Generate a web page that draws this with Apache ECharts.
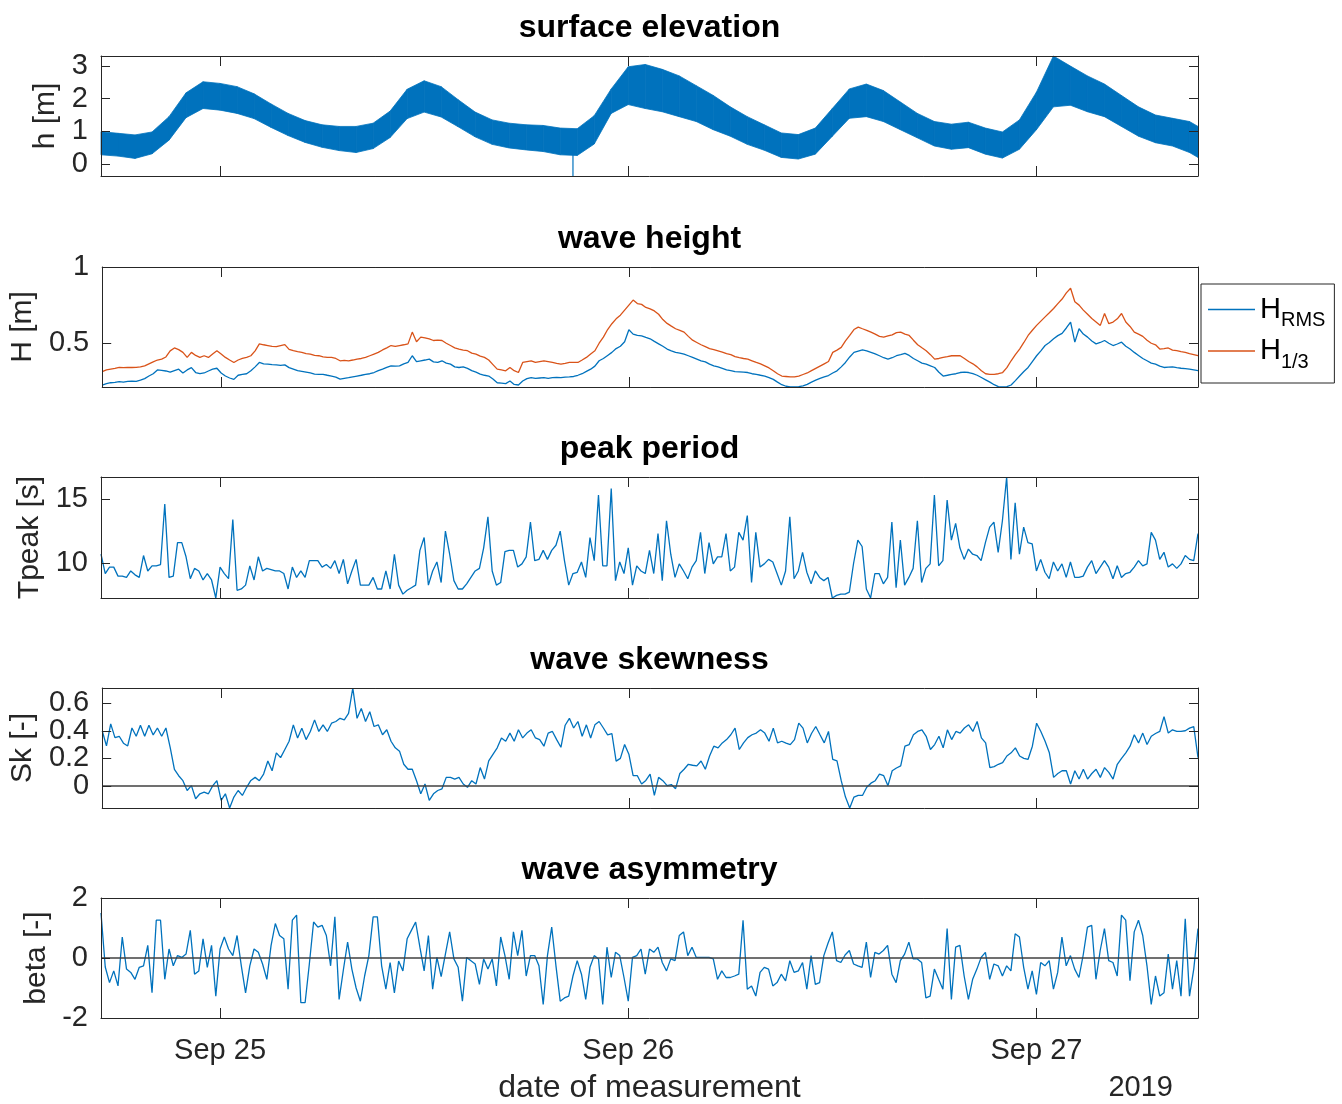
<!DOCTYPE html>
<html><head><meta charset="utf-8">
<script src="https://cdn.jsdelivr.net/npm/echarts@6/dist/echarts.min.js"></script>
<style>html,body{margin:0;padding:0;background:#fff}#c{width:1342px;height:1104px}</style>
</head><body><div id="c"></div>
<script>
// ---------- time base ----------
const START = Date.UTC(2019, 8, 24, 17, 0);
const END = Date.UTC(2019, 8, 27, 9, 30);
const STEP15 = 15 * 60 * 1000;
const ELEV_STEP = 60 * 60 * 1000;
const xTicks = [Date.UTC(2019, 8, 25), Date.UTC(2019, 8, 26), Date.UTC(2019, 8, 27)];
const xTickLabels = ['Sep 25', 'Sep 26', 'Sep 27'];
const yearLabel = '2019';
const xLabel = 'date of measurement';

// ---------- surface elevation (hourly envelope of the raw signal, last sample at END) ----------
const elevUpper = [0.99,0.94,0.89,0.98,1.45,2.18,2.52,2.47,2.37,2.15,1.84,1.55,1.33,1.20,1.15,1.15,1.25,1.62,2.29,2.55,2.37,1.97,1.59,1.35,1.25,1.20,1.18,1.10,1.08,1.48,2.30,2.98,3.05,2.90,2.70,2.40,2.10,1.75,1.45,1.20,0.95,0.90,1.10,1.70,2.30,2.45,2.25,1.90,1.55,1.30,1.22,1.28,1.10,0.98,1.35,2.20,3.31,3.00,2.70,2.45,2.10,1.75,1.50,1.40,1.30,1.15];
const elevLower = [0.28,0.24,0.17,0.31,0.73,1.42,1.70,1.65,1.55,1.39,1.12,0.87,0.66,0.51,0.41,0.35,0.47,0.81,1.39,1.59,1.44,1.14,0.83,0.60,0.49,0.43,0.38,0.28,0.26,0.61,1.55,1.82,1.70,1.60,1.45,1.30,1.05,0.85,0.60,0.42,0.20,0.15,0.30,0.85,1.40,1.45,1.30,1.05,0.80,0.55,0.45,0.50,0.30,0.18,0.45,1.05,1.75,1.80,1.60,1.45,1.15,0.85,0.65,0.55,0.35,0.20];
const spikeTime = Date.UTC(2019, 8, 25, 20, 45);
const spikeValues = [0.35, -0.37];

// ---------- 15-minute wave statistics ----------
const hRms = [0.226,0.235,0.241,0.243,0.248,0.245,0.250,0.252,0.250,0.258,
0.268,0.285,0.300,0.325,0.322,0.318,0.310,0.320,0.330,0.305,
0.325,0.340,0.308,0.300,0.305,0.318,0.330,0.336,0.305,0.285,
0.272,0.263,0.290,0.296,0.300,0.320,0.345,0.374,0.365,0.363,
0.360,0.358,0.355,0.358,0.340,0.330,0.320,0.315,0.310,0.305,
0.298,0.296,0.296,0.290,0.285,0.278,0.265,0.270,0.274,0.280,
0.285,0.290,0.296,0.300,0.308,0.320,0.330,0.342,0.352,0.350,
0.352,0.365,0.374,0.418,0.380,0.385,0.390,0.396,0.378,0.374,
0.385,0.370,0.363,0.345,0.341,0.345,0.335,0.320,0.310,0.298,
0.290,0.285,0.265,0.241,0.238,0.235,0.252,0.230,0.226,0.252,
0.268,0.274,0.270,0.272,0.274,0.270,0.274,0.276,0.274,0.278,
0.279,0.282,0.290,0.300,0.315,0.330,0.350,0.385,0.400,0.420,
0.440,0.465,0.480,0.510,0.588,0.560,0.551,0.548,0.538,0.529,
0.512,0.496,0.480,0.462,0.450,0.440,0.435,0.429,0.418,0.407,
0.396,0.385,0.378,0.363,0.352,0.345,0.335,0.325,0.320,0.314,
0.312,0.310,0.308,0.300,0.296,0.290,0.285,0.275,0.263,0.245,
0.228,0.218,0.213,0.213,0.215,0.220,0.230,0.245,0.258,0.270,
0.280,0.288,0.305,0.319,0.345,0.374,0.410,0.440,0.448,0.456,
0.450,0.440,0.430,0.418,0.405,0.396,0.405,0.418,0.425,0.434,
0.420,0.400,0.385,0.370,0.363,0.352,0.341,0.310,0.285,0.290,
0.296,0.300,0.308,0.310,0.308,0.300,0.290,0.275,0.260,0.245,
0.228,0.215,0.213,0.215,0.226,0.255,0.285,0.315,0.341,0.380,
0.418,0.450,0.485,0.505,0.529,0.550,0.565,0.600,0.639,0.507,
0.595,0.560,0.540,0.515,0.496,0.505,0.518,0.500,0.485,0.495,
0.507,0.480,0.462,0.440,0.420,0.400,0.385,0.370,0.363,0.350,
0.341,0.343,0.345,0.340,0.336,0.333,0.330,0.325,0.320];
const h13 = [0.314,0.325,0.330,0.335,0.341,0.340,0.342,0.341,0.342,0.345,
0.352,0.365,0.378,0.390,0.396,0.410,0.450,0.469,0.458,0.440,
0.407,0.440,0.420,0.407,0.418,0.407,0.430,0.451,0.430,0.407,
0.390,0.374,0.390,0.400,0.407,0.418,0.450,0.496,0.490,0.485,
0.480,0.478,0.485,0.491,0.460,0.451,0.445,0.440,0.432,0.429,
0.420,0.418,0.410,0.407,0.407,0.400,0.385,0.388,0.385,0.390,
0.396,0.400,0.407,0.418,0.429,0.440,0.456,0.470,0.485,0.480,
0.485,0.490,0.496,0.573,0.510,0.540,0.535,0.529,0.518,0.520,
0.518,0.500,0.485,0.470,0.462,0.455,0.451,0.435,0.429,0.415,
0.407,0.390,0.360,0.330,0.325,0.319,0.341,0.320,0.308,0.374,
0.380,0.385,0.374,0.380,0.385,0.380,0.374,0.368,0.363,0.368,
0.374,0.374,0.374,0.390,0.407,0.430,0.451,0.500,0.540,0.590,
0.628,0.660,0.684,0.717,0.750,0.783,0.760,0.755,0.735,0.725,
0.712,0.690,0.655,0.630,0.612,0.595,0.585,0.573,0.545,0.520,
0.505,0.490,0.478,0.465,0.458,0.450,0.442,0.432,0.425,0.412,
0.405,0.400,0.396,0.385,0.374,0.365,0.352,0.338,0.320,0.300,
0.285,0.282,0.279,0.280,0.285,0.295,0.305,0.320,0.335,0.350,
0.365,0.380,0.440,0.455,0.473,0.515,0.551,0.590,0.606,0.595,
0.585,0.573,0.560,0.545,0.540,0.548,0.555,0.570,0.573,0.560,
0.551,0.520,0.490,0.470,0.451,0.425,0.396,0.400,0.407,0.412,
0.418,0.418,0.418,0.400,0.380,0.365,0.345,0.320,0.300,0.296,
0.296,0.300,0.308,0.340,0.385,0.425,0.462,0.505,0.551,0.585,
0.617,0.645,0.673,0.700,0.728,0.760,0.790,0.830,0.861,0.772,
0.750,0.717,0.690,0.662,0.640,0.617,0.695,0.628,0.639,0.660,
0.695,0.639,0.610,0.573,0.560,0.545,0.520,0.500,0.490,0.462,
0.465,0.469,0.455,0.451,0.445,0.440,0.432,0.425,0.418];
const tPeak = [10.7,9.2,9.7,9.7,9.0,9.0,8.9,9.4,9.1,8.9,
10.6,9.4,9.8,9.8,9.9,14.6,8.9,9.0,11.6,11.6,
10.5,8.8,9.6,9.4,8.7,9.2,8.7,7.3,9.7,9.2,
8.8,13.4,7.9,8.0,8.3,9.8,8.7,10.5,9.4,9.6,
9.5,9.4,9.4,9.2,8.0,9.7,8.9,9.4,8.9,10.2,
10.2,10.2,9.7,9.9,9.6,10.2,9.2,10.3,8.4,9.4,
10.3,8.3,8.3,8.3,8.9,8.0,8.0,9.4,8.0,10.7,
8.3,7.6,7.9,8.1,8.3,11.0,12.0,8.3,9.4,10.1,
8.5,12.5,10.7,8.65,8.0,8.0,8.4,8.9,9.4,9.6,
11.2,13.6,9.4,8.3,8.5,10.9,11.0,11.0,9.7,9.95,
10.5,13.2,10.2,10.3,11.0,10.3,11.0,11.4,12.5,10.2,
8.3,9.2,9.3,10.1,8.9,12.0,10.2,15.3,9.8,9.8,
15.8,8.65,10.1,9.2,11.2,8.3,9.8,9.4,9.2,11.0,
9.2,12.3,8.65,13.3,10.7,8.9,9.95,9.4,8.8,9.7,
10.2,12.4,9.2,11.6,9.95,10.5,10.5,12.3,9.4,9.7,
12.4,11.8,13.7,8.5,12.4,9.7,9.95,10.3,10.1,9.2,
8.3,9.4,13.6,8.8,9.4,10.85,9.3,8.4,9.4,8.9,
8.65,8.9,7.3,7.5,7.6,7.6,7.75,10.0,11.8,11.3,
8.0,7.3,9.2,9.2,8.4,8.9,13.2,8.1,11.8,8.3,
8.9,9.6,13.3,8.5,9.6,9.95,15.3,9.8,10.2,14.9,
11.8,13.1,11.2,10.3,11.1,10.7,10.6,10.2,11.6,12.8,
13.2,10.85,13.3,16.7,10.3,14.7,10.7,12.8,11.6,11.5,
9.4,10.3,9.3,8.8,10.1,9.4,9.95,8.9,10.1,8.9,
8.9,9.0,9.7,10.2,9.2,9.7,10.2,9.7,8.8,9.8,
8.9,9.2,9.3,9.7,10.2,9.8,9.95,12.4,11.8,10.3,
10.85,9.7,9.95,9.6,9.95,10.6,10.3,10.2,12.3];
const skew = [0.40,0.29,0.45,0.35,0.36,0.31,0.29,0.42,0.36,0.44,
0.36,0.44,0.37,0.42,0.36,0.42,0.28,0.12,0.074,0.038,
-0.033,0.002,-0.093,-0.057,-0.045,-0.057,0.0,0.038,-0.105,-0.057,
-0.16,-0.081,-0.033,-0.069,-0.01,0.04,0.062,0.038,0.086,0.181,
0.11,0.24,0.205,0.264,0.324,0.443,0.348,0.419,0.336,0.395,
0.479,0.395,0.443,0.395,0.455,0.467,0.49,0.479,0.526,0.71,
0.49,0.562,0.467,0.538,0.431,0.443,0.371,0.407,0.324,0.276,
0.252,0.157,0.121,0.121,0.038,-0.057,0.014,-0.105,-0.057,-0.033,
-0.021,0.062,0.062,0.050,0.062,0.014,-0.010,0.038,0.014,0.133,
0.05,0.181,0.229,0.276,0.348,0.324,0.383,0.324,0.407,0.348,
0.383,0.407,0.348,0.336,0.288,0.383,0.395,0.336,0.28,0.44,
0.49,0.42,0.467,0.36,0.443,0.348,0.443,0.467,0.42,0.37,
0.38,0.18,0.20,0.30,0.23,0.074,0.074,0.014,0.04,0.086,
-0.069,0.062,0.038,0.002,0.01,-0.02,0.09,0.121,0.157,0.15,
0.145,0.181,0.121,0.217,0.288,0.276,0.312,0.336,0.371,0.419,
0.264,0.312,0.35,0.371,0.383,0.407,0.383,0.324,0.419,0.312,
0.324,0.31,0.30,0.336,0.455,0.419,0.312,0.38,0.431,0.371,
0.312,0.395,0.193,0.181,0.038,-0.081,-0.16,-0.081,-0.069,-0.069,
-0.01,0.02,0.038,0.086,0.074,0.002,0.11,0.13,0.145,0.288,
0.30,0.371,0.395,0.407,0.36,0.264,0.30,0.36,0.276,0.407,
0.336,0.395,0.383,0.42,0.443,0.395,0.467,0.348,0.312,0.133,
0.14,0.157,0.169,0.217,0.24,0.276,0.217,0.20,0.193,0.288,
0.455,0.395,0.324,0.24,0.062,0.09,0.11,0.11,0.014,0.11,
0.05,0.121,0.05,0.09,0.121,0.062,0.133,0.098,0.05,0.157,
0.2,0.24,0.288,0.371,0.312,0.383,0.30,0.36,0.38,0.395,
0.502,0.383,0.407,0.395,0.395,0.40,0.419,0.43,0.205];
const beta = [1.5,-0.3,-0.82,-0.43,-0.93,0.70,-0.37,-0.48,-0.71,-0.31,
-0.26,0.42,-1.16,1.26,1.26,-0.71,0.30,-0.26,0.08,0.02,
0.13,0.92,-0.54,-0.43,0.64,-0.31,0.42,-1.27,0.30,0.70,
0.3,0.08,0.75,-0.26,-1.16,-0.26,0.30,0.19,-0.2,-0.71,
0.42,1.15,0.75,0.64,-1.04,1.26,1.43,-1.49,-1.49,-0.2,
1.20,1.03,1.09,0.75,-0.26,1.37,-1.38,-0.4,0.53,-0.37,
-1.0,-1.44,-0.6,0.08,1.37,1.37,-0.26,-1.04,-0.15,-1.16,
-0.1,-0.43,0.64,0.92,1.20,0.36,-0.43,0.75,-1.04,0.02,
-0.62,0.13,0.87,-0.03,-0.31,-1.44,0.02,-0.09,-0.20,-0.88,
-0.03,-0.37,-0.03,-0.93,0.70,0.08,-0.71,0.87,0.08,0.92,
-0.60,0.08,0.08,-0.26,-1.55,0.08,1.03,-0.26,-1.44,-1.33,
-1.27,-0.60,-0.09,-0.54,-1.38,-0.31,0.08,-0.03,-1.55,0.36,
-0.65,0.19,0.08,-0.65,-1.44,0.02,0.08,0.30,-0.54,0.30,
0.19,0.36,-0.15,-0.43,-0.03,-0.09,0.75,0.87,0.08,0.36,
0.02,0.02,0.02,0.02,-0.03,-0.71,-0.43,-0.65,-0.65,-0.60,
-0.54,1.26,-1.04,-0.93,-1.27,-0.48,-0.31,-0.37,-0.93,-0.82,
-0.54,-0.76,-0.09,-0.48,-0.43,-0.15,-1.04,0.08,-0.88,-0.82,
0.08,0.5,0.87,-0.09,-0.15,0.1,0.25,-0.20,-0.26,-0.31,
0.53,-0.65,0.19,0.13,0.25,0.42,-0.54,-0.82,-0.09,0.13,
0.53,-0.03,-0.03,-0.15,-1.33,-1.27,-0.37,-0.71,-1.04,0.98,
-1.38,0.36,0.42,-0.60,-1.38,-0.71,-0.37,0.02,0.19,-0.71,
-0.20,-0.26,-0.60,-0.26,-0.43,0.81,0.70,-0.31,-1.04,-0.43,
-1.21,-0.15,-0.26,-0.09,-1.04,-0.48,0.70,-0.26,0.08,-0.37,
-0.65,0.1,1.03,1.09,-0.71,0.25,0.98,-0.09,-0.15,-0.60,
1.43,1.26,-0.76,0.87,1.26,0.75,-0.26,-1.55,-0.60,-1.27,
-1.16,0.13,-1.04,-0.09,-1.27,1.31,-1.27,-0.37,0.98];

// ---------- styling ----------
const FONT = "'Liberation Sans', Arial, Helvetica, sans-serif";
const AX = '#262626';
const BLUE = '#0072BD';
const ORANGE = '#D95319';
const TICK_FS = 29, YLABEL_FS = 30, XLABEL_FS = 32, TITLE_FS = 32;

const panels = [
  {top: 56,  height: 120, min: -0.37, max: 3.31, ticks: [0, 1, 2, 3],       name: 'h [m]',     gap: 39, title: 'surface elevation'},
  {top: 267, height: 120, min: 0.213, max: 1,    ticks: [0.5, 1],           name: 'H [m]',     gap: 55, title: 'wave height'},
  {top: 477, height: 121, min: 7.3,   max: 16.7, ticks: [10, 15],           name: 'Tpeak [s]', gap: 53, title: 'peak period'},
  {top: 688, height: 120, min: -0.16, max: 0.71, ticks: [0, 0.2, 0.4, 0.6], name: 'Sk [-]',    gap: 59, title: 'wave skewness'},
  {top: 898, height: 120, min: -2,    max: 2,    ticks: [-2, 0, 2],         name: 'beta [-]',  gap: 45, title: 'wave asymmetry'}
];
const PLOT_LEFT = 101, PLOT_W = 1097;

const t15 = hRms.map((_, i) => START + i * STEP15);
const pairs = arr => arr.map((v, i) => [t15[i], v]);
const elevTimes = elevUpper.map((_, k) => k < elevUpper.length - 1 ? START + k * ELEV_STEP : END);
const elevBand = elevUpper.map((u, k) => [elevTimes[k], elevLower[k], u]);

const grid = [], xAxis = [], yAxis = [], extraY = [], graphic = [];
const labelStyle = {margin: 13, fontSize: TICK_FS, color: AX, fontFamily: FONT,
  showMinLabel: true, showMaxLabel: true, hideOverlap: false, formatter: v => String(v)};
panels.forEach((p, k) => {
  grid.push({left: PLOT_LEFT, width: PLOT_W, top: p.top, height: p.height, containLabel: false});
  const line = {show: true, onZero: false, lineStyle: {color: AX, width: 1}};
  // tick labels split into two interleaved sets so that closely spaced labels are all kept
  const labelsA = p.ticks.filter((_, j) => j % 2 === 0);
  const labelsB = p.ticks.filter((_, j) => j % 2 === 1);
  xAxis.push({
    type: 'value', gridIndex: k, min: START, max: END, position: 'bottom', z: 5,
    axisLine: line,
    axisTick: {show: true, inside: true, length: 10, customValues: xTicks, lineStyle: {color: AX, width: 1}},
    axisLabel: {show: k === 4, customValues: xTicks, margin: 18, fontSize: TICK_FS, color: AX, fontFamily: FONT,
      showMinLabel: true, showMaxLabel: true, hideOverlap: false,
      formatter: v => { const j = xTicks.indexOf(v); return j >= 0 ? xTickLabels[j] : ''; }},
    splitLine: {show: false}
  });
  xAxis.push({
    type: 'value', gridIndex: k, min: START, max: END, position: 'top', z: 5,
    axisLine: line,
    axisTick: {show: true, inside: true, length: 10, customValues: xTicks, lineStyle: {color: AX, width: 1}},
    axisLabel: {show: false}, splitLine: {show: false}
  });
  yAxis.push({
    type: 'value', gridIndex: k, min: p.min, max: p.max, position: 'left', z: 5,
    axisLine: line,
    axisTick: {show: true, inside: true, length: 9, customValues: p.ticks, lineStyle: {color: AX, width: 1}},
    axisLabel: Object.assign({show: true, customValues: labelsA}, labelStyle),
    splitLine: {show: false},
    name: p.name, nameLocation: 'middle', nameGap: p.gap, nameRotate: 90,
    nameTextStyle: {fontSize: YLABEL_FS, color: AX, fontFamily: FONT}
  });
  yAxis.push({
    type: 'value', gridIndex: k, min: p.min, max: p.max, position: 'right', z: 5,
    axisLine: line,
    axisTick: {show: true, inside: true, length: 9, customValues: p.ticks, lineStyle: {color: AX, width: 1}},
    axisLabel: {show: false}, splitLine: {show: false}
  });
  if (labelsB.length) {
    extraY.push({
      type: 'value', gridIndex: k, min: p.min, max: p.max, position: 'left', offset: 0, z: 5,
      axisLine: {show: false, onZero: false}, axisTick: {show: false}, splitLine: {show: false},
      axisLabel: Object.assign({show: true, customValues: labelsB}, labelStyle)
    });
  }
  graphic.push({type: 'text', x: PLOT_LEFT + PLOT_W / 2, y: p.top - 28,
    style: {text: p.title, textAlign: 'center', textVerticalAlign: 'middle',
      font: `bold ${TITLE_FS}px ${FONT}`, fill: '#000'}});
});
yAxis.push(...extraY);
graphic.push({type: 'text', x: PLOT_LEFT + PLOT_W / 2, y: 1088,
  style: {text: xLabel, textAlign: 'center', textVerticalAlign: 'middle', font: `${XLABEL_FS}px ${FONT}`, fill: AX}});
graphic.push({type: 'text', x: 1173, y: 1088,
  style: {text: yearLabel, textAlign: 'right', textVerticalAlign: 'middle', font: `${TICK_FS}px ${FONT}`, fill: AX}});

const zeroLine = {silent: true, symbol: ['none', 'none'], label: {show: false},
  lineStyle: {color: '#404040', width: 1.5, type: 'solid'}, data: [{yAxis: 0}]};

const series = [
  {type: 'custom', name: 'elevation', xAxisIndex: 0, yAxisIndex: 0, data: elevBand, silent: true,
    encode: {x: 0, y: [1, 2]},
    renderItem: (params, api) => {
      const i = params.dataIndex;
      if (i >= elevBand.length - 1) return null;
      const a = elevBand[i], b = elevBand[i + 1];
      const pts = [api.coord([a[0], a[1]]), api.coord([a[0], a[2]]), api.coord([b[0], b[2]]), api.coord([b[0], b[1]])];
      return {type: 'polygon', shape: {points: pts}, style: {fill: BLUE, stroke: BLUE, lineWidth: 0.8}};
    }},
  {type: 'line', name: 'spike', xAxisIndex: 0, yAxisIndex: 0, data: spikeValues.map(v => [spikeTime, v]),
    symbol: 'none', lineStyle: {width: 1.2, color: BLUE}, silent: true},
  {type: 'line', name: 'HRMS', xAxisIndex: 2, yAxisIndex: 2, data: pairs(hRms), symbol: 'none',
    lineStyle: {width: 1.3, color: BLUE}, itemStyle: {color: BLUE}},
  {type: 'line', name: 'H13', xAxisIndex: 2, yAxisIndex: 2, data: pairs(h13), symbol: 'none',
    lineStyle: {width: 1.3, color: ORANGE}, itemStyle: {color: ORANGE}},
  {type: 'line', name: 'Tpeak', xAxisIndex: 4, yAxisIndex: 4, data: pairs(tPeak), symbol: 'none',
    lineStyle: {width: 1.3, color: BLUE}},
  {type: 'line', name: 'Sk', xAxisIndex: 6, yAxisIndex: 6, data: pairs(skew), symbol: 'none',
    lineStyle: {width: 1.3, color: BLUE}, markLine: zeroLine},
  {type: 'line', name: 'beta', xAxisIndex: 8, yAxisIndex: 8, data: pairs(beta), symbol: 'none',
    lineStyle: {width: 1.3, color: BLUE}, markLine: zeroLine}
];

const chart = echarts.init(document.getElementById('c'), null, {renderer: 'canvas'});
chart.setOption({
  animation: false,
  backgroundColor: '#fff',
  grid, xAxis, yAxis, series, graphic,
  legend: {
    data: ['HRMS', 'H13'], orient: 'vertical', left: 1201, top: 284,
    icon: 'rect', itemWidth: 47, itemHeight: 1.5, itemGap: 6, padding: [11, 9, 11, 7],
    borderColor: AX, borderWidth: 1, backgroundColor: '#fff', selectedMode: false,
    formatter: n => n === 'HRMS' ? '{h|H}{s|RMS}' : '{h|H}{s|1/3}',
    textStyle: {color: '#000', fontFamily: FONT,
      rich: {h: {fontSize: 29, fontFamily: FONT, color: '#000'},
             s: {fontSize: 20, fontFamily: FONT, color: '#000', padding: [22, 0, 0, 0]}}}
  }
});
</script>
</body></html>
